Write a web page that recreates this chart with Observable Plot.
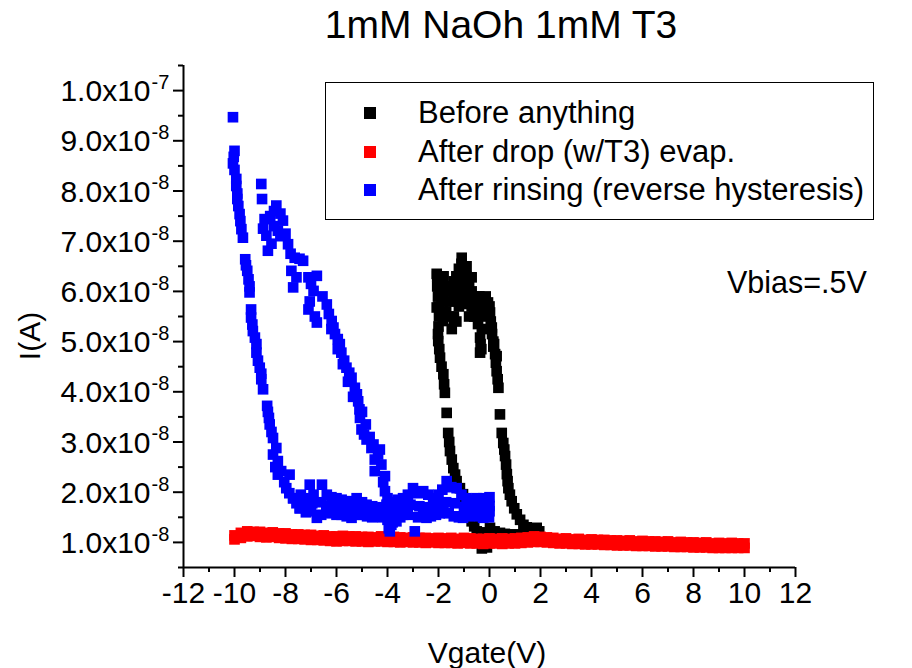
<!DOCTYPE html>
<html>
<head>
<meta charset="utf-8">
<script src="https://cdn.jsdelivr.net/npm/d3@7"></script>
<script src="https://cdn.jsdelivr.net/npm/@observablehq/plot@0.6"></script>
<style>
  html, body { margin: 0; padding: 0; background: #fff; overflow: hidden; }
  #chart svg { display: block; }
</style>
</head>
<body>
<div id="chart"></div>
<script>
// ---------- Text ----------
const titleText = "1mM NaOh 1mM T3";
const xLabel = "Vgate(V)";
const yLabel = "I(A)";
const noteText = "Vbias=.5V";
const seriesNames = ["Before anything", "After drop (w/T3) evap.", "After rinsing (reverse hysteresis)"];
const seriesColors = ["#000000", "#ff0000", "#0000ff"];

// ---------- Axes ----------
const xDomain = [-12, 12];
const yDomain = [0.5, 10.5]; // current in units of 1e-8 A
const xTickValues = [-12, -10, -8, -6, -4, -2, 0, 2, 4, 6, 8, 10, 12];
const xTickLabels = ["-12", "-10", "-8", "-6", "-4", "-2", "0", "2", "4", "6", "8", "10", "12"];
const xMinorTicks = [-11, -9, -7, -5, -3, -1, 1, 3, 5, 7, 9, 11];
const yTickValues = [1, 2, 3, 4, 5, 6, 7, 8, 9, 10];
const yTickBase = ["1.0x10", "2.0x10", "3.0x10", "4.0x10", "5.0x10", "6.0x10", "7.0x10", "8.0x10", "9.0x10", "1.0x10"];
const yTickExp = ["-8", "-8", "-8", "-8", "-8", "-8", "-8", "-8", "-8", "-7"];
const yMinorTicks = [0.5, 1.5, 2.5, 3.5, 4.5, 5.5, 6.5, 7.5, 8.5, 9.5, 10.5];

// ---------- Series: Before anything (black) ----------
const blackTopX = [-2.07,-2.0,-1.95,-2.07,-1.88,-1.83,-1.7,-1.6,-1.48,-1.4,-1.36,-1.25,-1.2,-1.09,-1.09,-1.09,-0.95,-0.9,-0.85,-0.75,-0.7,-0.6,-0.5,-0.4,-0.3,-0.37,-0.2,-0.06,0.02,0.09,-0.37,0.28,-1.6,-1.8,-1.3,-0.8,-0.5,-0.15,0.15,
  -2.05,-2.05,-2.02,-2.0,-1.98,-2.0,-2.02,-1.9,-1.85,-1.85,
  -1.6,-1.5,-1.4,-1.3,-1.2,-1.1,-1.0,-0.9,-0.8,-0.7,
  -1.5,-1.3,-1.1,-0.9,-0.7,-1.6,-1.4,-0.6,-0.5,-0.3,
  -0.15,0.0,-0.45,-0.3,0.05,0.1,0.18,-0.35,-0.32];
const blackTopY = [6.35,6.2,6.0,5.68,5.81,5.41,5.6,5.8,5.25,5.5,5.98,6.1,5.7,6.15,5.75,6.67,6.35,6.5,6.0,5.8,6.28,5.7,5.58,5.9,5.5,5.08,5.6,5.78,5.58,5.28,4.78,4.71,6.1,6.3,5.4,5.5,5.9,5.9,5.0,
  6.3,6.1,5.9,5.7,5.5,5.3,5.15,6.2,5.9,5.6,
  6.0,6.1,6.2,6.3,6.45,6.55,6.45,6.3,6.15,6.0,
  5.8,5.9,5.95,5.85,5.7,5.5,5.45,5.5,5.75,5.8,
  5.75,5.7,5.35,5.25,5.4,5.15,4.95,4.95,4.85];
const blackLeftX = [-2.01,-1.97,-1.94,-1.88,-1.81,-1.78,-1.75,-1.68,-1.62,-1.58,-1.55,-1.48,-1.42,-1.35,-1.29,-1.16,-1.04,-0.97,-0.9,-0.8,-0.7,-0.6,-0.5,-0.38,-0.25,-0.06,-0.3,-0.1];
const blackLeftY = [5.01,4.85,4.68,4.5,4.35,4.15,3.98,3.58,3.18,3.0,2.82,2.65,2.48,2.35,2.22,2.08,1.96,1.82,1.68,1.55,1.42,1.32,1.22,1.08,0.96,1.02,0.88,0.9];
const blackRightX = [0.15,0.22,0.25,0.28,0.32,0.35,0.41,0.48,0.54,0.58,0.61,0.65,0.68,0.71,0.74,0.8,0.87,0.97,1.07,1.2,1.33,1.46,1.59,1.72,1.85,1.95];
const blackRightY = [4.9,4.75,4.58,4.41,4.25,4.08,3.55,3.18,2.98,2.85,2.72,2.55,2.36,2.22,2.08,1.95,1.82,1.68,1.56,1.45,1.35,1.3,1.25,1.27,1.29,1.22];
const blackBottomX = [0.02,0.2,0.41,0.6,0.8,1.0,1.2,1.4,1.6,-0.2,0.1,0.4,0.7,1.0,1.3,0.0];
const blackBottomY = [1.29,1.22,1.19,1.17,1.16,1.15,1.16,1.12,1.15,1.2,1.05,1.0,1.0,1.02,1.05,1.15];

// ---------- Series: After drop (w/T3) evap. (red) ----------
const redX = [-10,-9.75,-9.5,-9.25,-9,-8.75,-8.5,-8.25,-8,-7.75,-7.5,-7.25,-7,-6.75,-6.5,-6.25,-6,-5.75,-5.5,-5.25,-5,-4.75,-4.5,-4.25,-4,-3.75,-3.5,-3.25,-3,-2.75,-2.5,-2.25,-2,-1.75,-1.5,-1.25,-1,-0.75,-0.5,-0.25,0,0.25,0.5,0.75,1,1.25,1.5,1.75,2,2.25,2.5,2.75,3,3.25,3.5,3.75,4,4.25,4.5,4.75,5,5.25,5.5,5.75,6,6.25,6.5,6.75,7,7.25,7.5,7.75,8,8.25,8.5,8.75,9,9.25,9.5,9.75,10];
const redYFwd = [1.14,1.19,1.22,1.21,1.21,1.19,1.20,1.18,1.18,1.16,
  1.16,1.15,1.15,1.13,1.14,1.12,1.12,1.13,1.12,1.12,
  1.11,1.11,1.10,1.12,1.10,1.11,1.10,1.09,1.10,1.09,
  1.09,1.08,1.09,1.08,1.09,1.07,1.09,1.08,1.07,1.07,
  1.08,1.07,1.08,1.07,1.08,1.09,1.10,1.12,1.11,1.10,
  1.09,1.07,1.08,1.06,1.07,1.05,1.06,1.05,1.05,1.04,
  1.04,1.03,1.04,1.02,1.03,1.02,1.02,1.01,1.02,1.00,
  1.01,1.00,1.00,0.99,1.00,0.98,0.99,0.98,0.99,0.98,
  0.98];
const redYRev = [1.06,1.09,1.12,1.13,1.11,1.10,1.11,1.09,1.08,1.07,
  1.07,1.06,1.05,1.05,1.04,1.03,1.02,1.03,1.03,1.02,
  1.02,1.01,1.02,1.02,1.01,1.01,1.00,1.01,1.00,1.00,
  0.99,1.00,0.99,0.99,0.99,0.98,0.99,0.98,0.98,0.97,
  0.98,0.98,0.97,0.98,0.98,0.99,1.00,1.01,1.01,1.00,
  0.99,0.98,0.98,0.97,0.97,0.96,0.96,0.96,0.95,0.95,
  0.94,0.94,0.94,0.93,0.93,0.93,0.92,0.92,0.92,0.91,
  0.91,0.91,0.90,0.90,0.90,0.89,0.89,0.89,0.89,0.89,
  0.89];

// ---------- Series: After rinsing (blue) ----------
const blueLeftX = [-10.06,-10.0,-10.03,-10.06,-10.0,-9.93,-9.93,-9.89,-9.89,-9.85,
  -9.8,-9.77,-9.73,-9.67,-9.58,-9.55,-9.5,-9.45,-9.41,-9.41,
  -9.35,-9.35,-9.3,-9.28,-9.2,-9.14,-9.14,-9.08,-9.01,-8.95,
  -8.95,-8.88,-8.72,-8.69,-8.65,-8.62,-8.55,-8.49,-8.36,-8.49,
  -8.3,-8.4,-8.17,-8.3,-7.84,-8.05,-7.97,-7.85,-7.7,-7.57,
  -7.44];
const blueLeftY = [9.47,8.8,8.68,8.55,8.42,8.24,8.1,7.95,7.84,7.7,
  7.54,7.4,7.24,7.07,6.64,6.52,6.41,6.24,6.1,5.98,
  5.64,5.48,5.34,5.21,5.08,4.95,4.78,4.62,4.48,4.36,
  4.25,4.05,3.72,3.6,3.48,3.35,3.2,3.08,2.88,2.75,
  2.62,2.5,2.42,2.35,2.35,2.2,2.08,1.98,1.88,1.78,
  1.68];
const blueUpperX = [-7.7,-7.4,-7.18,-7.05,-6.9,-6.57,-6.38,-6.2,-6.0,-5.8,-5.6,-5.48,-5.21,-5.0,-4.82,-4.6,-4.43,-4.2,-4.0,-3.8,-3.6,-3.39,-3.2,-3.0,-2.8,-2.6,-2.4,-2.21,-2.0,-1.85,-1.68,-1.5,-1.29,-1.1,-0.9,-0.7,-0.5,-0.25,0.0,-0.02];
const blueUpperY = [1.88,1.95,1.88,2.15,1.95,2.15,1.95,1.9,1.88,1.85,1.82,1.82,1.88,1.8,1.75,1.72,1.68,1.7,1.75,1.8,1.85,1.88,1.95,2.08,1.98,2.02,1.95,1.88,1.95,2.05,2.22,2.1,2.08,1.95,1.88,1.85,1.88,1.88,1.9,1.75];
const blueMidX = [-7.3,-6.95,-6.6,-6.25,-5.9,-5.55,-5.2,-4.85,-4.5,-4.15,-3.8,-3.45,-3.1,-2.75,-2.4,-2.05,-1.7,-1.35,-1.0,-0.65,-0.3,0.0];
const blueMidY = [1.75,1.78,1.8,1.72,1.7,1.68,1.72,1.65,1.62,1.6,1.62,1.7,1.75,1.72,1.7,1.75,1.8,1.78,1.7,1.68,1.7,1.72];
const blueLowerX = [-7.44,-7.2,-7.0,-6.77,-6.6,-6.4,-6.2,-6.0,-5.8,-5.6,-5.41,-5.2,-5.0,-4.8,-4.6,-4.4,-4.2,-4.0,-3.91,-3.8,-3.65,-3.5,-3.39,-3.2,-2.93,-2.8,-2.6,-2.47,-2.3,-2.1,-1.95,-1.81,-1.6,-1.4,-1.2,-1.04,-0.8,-0.6,-0.4,-0.25,0.0,-0.02];
const blueLowerY = [1.68,1.6,1.62,1.49,1.55,1.6,1.58,1.55,1.55,1.52,1.49,1.55,1.55,1.52,1.5,1.52,1.5,1.45,1.22,1.4,1.42,1.5,1.55,1.55,1.22,1.5,1.52,1.49,1.52,1.55,1.58,1.62,1.58,1.52,1.5,1.49,1.52,1.55,1.52,1.49,1.62,1.5];
const blueRightX = [-8.95,-8.92,-8.36,-8.45,-8.82,-8.6,-8.1,-8.2,-8.75,-8.88,
  -8.69,-8.55,-8.3,-8.45,-8.2,-7.9,-8.0,-7.64,-7.8,-7.31,
  -7.45,-7.77,-7.57,-7.7,-7.1,-6.77,-6.9,-7.0,-7.1,-7.05,
  -6.77,-6.85,-6.38,-6.55,-6.19,-6.3,-6.06,-6.12,-5.87,-5.95,
  -5.81,-5.7,-5.61,-5.5,-5.41,-5.28,-5.2,-5.15,-5.1,-5.08,
  -5.02,-4.92,-4.82,-4.63,-4.37,-4.5,-4.24,-4.5,-4.1,-4.17,
  -4.1,-4.04,-4.0,-3.97,-3.91,-3.85,-3.95,
  -6.2,-5.95,-5.75,-5.55,-5.35,-5.0,-4.85,-4.7,-4.55,-4.3];
const blueRightY = [8.14,7.84,7.71,7.6,7.44,7.5,7.41,7.55,7.11,7.25,
  6.81,6.95,7.21,7.3,7.1,6.94,7.15,6.67,6.75,6.61,
  6.65,6.41,6.28,6.08,6.28,6.31,6.01,6.15,5.64,5.8,
  5.38,5.5,5.74,5.9,5.41,5.55,5.15,5.28,4.95,5.05,
  4.78,4.62,4.48,4.38,4.28,4.08,3.95,3.81,3.65,3.48,
  3.25,3.15,3.05,2.88,2.75,2.65,2.55,2.42,2.32,2.2,
  2.02,1.75,1.88,1.6,1.49,1.35,1.28,
  5.25,4.85,4.55,4.2,3.9,3.6,3.35,3.1,2.95,2.85];

// ---------- Build tables ----------
function zip(xs, ys) { return xs.map((x, i) => ({x, y: ys[i]})); }
const blackData = [].concat(zip(blackTopX, blackTopY), zip(blackLeftX, blackLeftY), zip(blackRightX, blackRightY), zip(blackBottomX, blackBottomY));
const redData = [].concat(zip(redX, redYFwd), zip(redX, redYRev));
const blueData = [].concat(zip(blueLeftX, blueLeftY), zip(blueUpperX, blueUpperY), zip(blueMidX, blueMidY), zip(blueLowerX, blueLowerY), zip(blueRightX, blueRightY));
const xTickTable = xTickValues.map((v, i) => ({v, label: xTickLabels[i]}));
const yTickTable = yTickValues.map((v, i) => ({v, base: yTickBase[i], exp: yTickExp[i]}));

const FONT = "'Liberation Sans', Arial, Helvetica, sans-serif";
const R = 6.0;

const chart = Plot.plot({
  width: 912,
  height: 668,
  marginLeft: 183,
  marginRight: 117,
  marginTop: 65,
  marginBottom: 101,
  x: {domain: xDomain, axis: null},
  y: {domain: yDomain, axis: null},
  style: {background: "white", color: "black", fontFamily: FONT, fontSize: "30px", overflow: "visible"},
  marks: [
    Plot.dot(blackData, {x: "x", y: "y", symbol: "square", r: R, fill: seriesColors[0], stroke: "none"}),
    Plot.dot(redData, {x: "x", y: "y", symbol: "square", r: R, fill: seriesColors[1], stroke: "none"}),
    Plot.dot(blueData, {x: "x", y: "y", symbol: "square", r: R, fill: seriesColors[2], stroke: "none"}),
    Plot.ruleX([xDomain[0]], {stroke: "black", strokeWidth: 2}),
    Plot.ruleY([yDomain[0]], {stroke: "black", strokeWidth: 2}),
    Plot.axisX({anchor: "bottom", ticks: xTickValues, tickSize: 10, strokeWidth: 2, fill: "none", label: null}),
    Plot.axisX({anchor: "bottom", ticks: xMinorTicks, tickSize: 5, strokeWidth: 2, fill: "none", label: null}),
    Plot.axisY({anchor: "left", ticks: yTickValues, tickSize: 10, strokeWidth: 2, fill: "none", label: null}),
    Plot.axisY({anchor: "left", ticks: yMinorTicks, tickSize: 5, strokeWidth: 2, fill: "none", label: null}),
    Plot.text(xTickTable, {x: "v", text: "label", frameAnchor: "bottom", dy: 35, fontSize: 30, fill: "black"}),
    Plot.text(yTickTable, {y: "v", text: "base", frameAnchor: "left", textAnchor: "end", dx: -33, dy: 1, fontSize: 30, fill: "black"}),
    Plot.text(yTickTable, {y: "v", text: "exp", frameAnchor: "left", textAnchor: "start", dx: -32, dy: -8, fontSize: 20, fill: "black"})
  ]
});

document.getElementById("chart").appendChild(chart);

// ---------- Annotations (title, axis titles, note, legend) ----------
const svg = d3.select(chart);
const ann = svg.append("g").attr("font-family", FONT).attr("fill", "black");
ann.append("text").attr("x", 501).attr("y", 38).attr("text-anchor", "middle").attr("font-size", 39).text(titleText);
ann.append("text").attr("x", 487).attr("y", 663).attr("text-anchor", "middle").attr("font-size", 30).text(xLabel);
ann.append("text").attr("transform", "translate(40,336) rotate(-90)").attr("text-anchor", "middle").attr("font-size", 30).text(yLabel);
ann.append("text").attr("x", 727).attr("y", 293).attr("text-anchor", "start").attr("font-size", 30.5).text(noteText);

const leg = ann.append("g");
leg.append("rect").attr("x", 325.5).attr("y", 82.5).attr("width", 548).attr("height", 137)
  .attr("fill", "white").attr("stroke", "black").attr("stroke-width", 1);
const rowY = [113, 152, 190];
seriesNames.forEach((name, i) => {
  leg.append("rect").attr("x", 364).attr("y", rowY[i] - 6).attr("width", 12).attr("height", 12).attr("fill", seriesColors[i]);
  leg.append("text").attr("x", 418).attr("y", rowY[i] + 10).attr("text-anchor", "start").attr("font-size", 31).text(name);
});
</script>
</body>
</html>
